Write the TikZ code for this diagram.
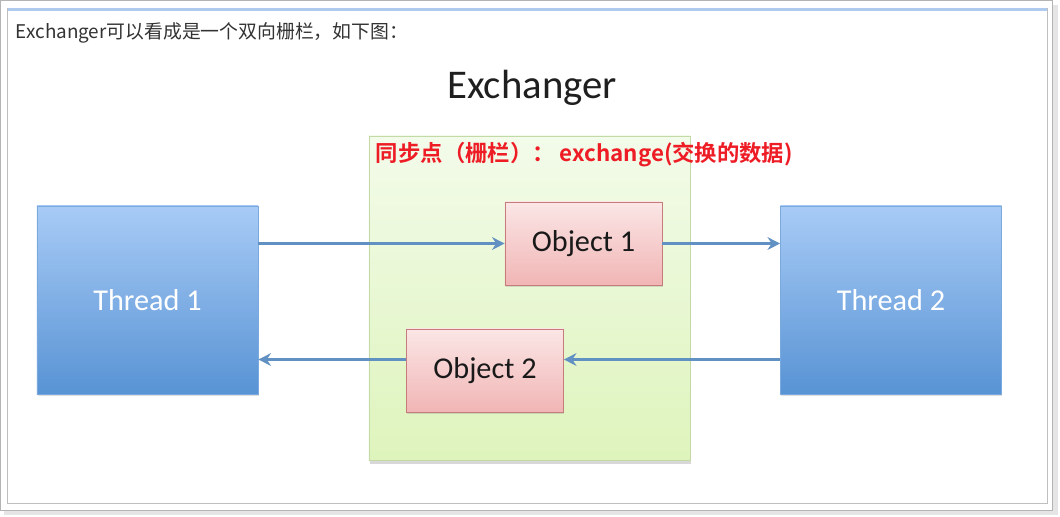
\documentclass[tikz,border=0pt]{standalone}
\usepackage{fontspec}
\setmainfont{Carlito}
\newfontfamily\cjk[BoldFont={Noto Sans CJK SC Bold}]{Noto Sans CJK SC}
\usetikzlibrary{arrows.meta, positioning, shadows}
\definecolor{threadtop}{HTML}{A8CBF6}
\definecolor{threadbot}{HTML}{5893D4}
\definecolor{objtop}{HTML}{FBE6E6}
\definecolor{objbot}{HTML}{F1B5B5}
\definecolor{objline}{HTML}{C77C7C}
\definecolor{syncTop}{HTML}{F3FBEA}
\definecolor{syncBot}{HTML}{DEF4BC}
\definecolor{syncLine}{HTML}{C3D9A6}
\definecolor{linkblue}{HTML}{6190C2}
\definecolor{framegray}{HTML}{B4B4B4}
\definecolor{topblue}{HTML}{AECBEF}
\definecolor{sharpred}{HTML}{EE1C25}
\tikzset{
  thread/.style = {
    minimum width  = 5.525cm,
    minimum height = 4.7cm,
    inner sep      = 0pt,
    top color      = threadtop,
    bottom color   = threadbot,
    draw           = threadbot!80,
    text           = white,
    font           = \fontsize{21.5}{24}\selectfont,
    drop shadow    = {shadow xshift=0.6pt, shadow yshift=-1.5pt, opacity=0.25}
  },
  object/.style = {
    minimum width  = 3.925cm,
    minimum height = 2.075cm,
    inner sep      = 0pt,
    top color      = objtop,
    bottom color   = objbot,
    draw           = objline,
    text           = black!90,
    font           = \fontsize{21.5}{24}\selectfont,
    drop shadow    = {shadow xshift=0.6pt, shadow yshift=-1.5pt, opacity=0.25}
  },
  sync/.style = {
    minimum width  = 8.025cm,
    minimum height = 8.1cm,
    inner sep      = 0pt,
    top color      = syncTop,
    bottom color   = syncBot,
    draw           = syncLine,
    drop shadow    = {shadow xshift=0.6pt, shadow yshift=-2.5pt, opacity=0.3}
  },
  link/.style = {line width=2.2pt, draw=linkblue,
    -{Stealth[length=9pt, width=9pt, inset=3pt]}}
}

\begin{document}
\begin{tikzpicture}[x=0.025cm, y=-0.025cm]
\useasboundingbox (0,0) rectangle (1060,516);
% page frame
\fill[black!10] (4,5) rectangle (1058,515);
\draw[framegray, fill=white] (0.5,0.5) rectangle (1052,510);
\draw[framegray!85] (7,8) rectangle (1047,503);
\draw[topblue, line width=1.6pt] (7.5,9.5) -- (1046.5,9.5);
\node (intro) at (11,33) [anchor=west, text=black!80] {\cjk\fontsize{13.4}{15}\selectfont Exchanger可以看成是一个双向栅栏，如下图：};

% diagram
\node (title) at (532,88) [text=black!88] {\fontsize{29}{32}\selectfont Exchanger};
\node (fence) at (529.5,298) [sync] {};
\node (label) at (371,155) [anchor=west, text=sharpred] {\cjk\bfseries\fontsize{15.9}{18}\selectfont 同步点（栅栏）： exchange(交换的数据)};
\node (t1) at (147.5,300) [thread] {Thread 1};
\node (t2) at (891,300) [thread] {Thread 2};
\node (o1) at (583.5,243.5) [object] {Object 1};
\node (o2) at (485,370.5) [object] {Object 2};

% arrows
\coordinate (back) at ([yshift=0.275cm]o2.east);
\draw[link] (t1.east |- o1.west) -- (o1.west);
\draw[link] (o1.east) -- (o1.east -| t2.west);
\draw[link] (t2.west |- back) -- (back);
\draw[link] (o2.west |- back) -- (t1.east |- back);
\end{tikzpicture}
\end{document}
